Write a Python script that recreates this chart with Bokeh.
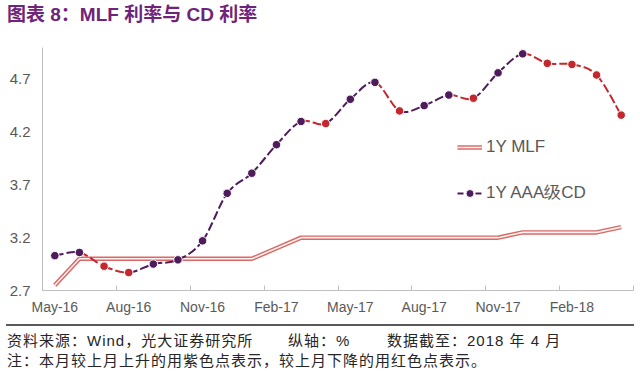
import numpy as np
from bokeh.plotting import figure
from bokeh.models import ColumnDataSource, FixedTicker, Legend, LegendItem, Div, BoxAnnotation
from bokeh.layouts import column
from bokeh.embed import file_html
from bokeh.resources import INLINE

# ---------------- data ----------------
months = ["May-16", "Jun-16", "Jul-16", "Aug-16", "Sep-16", "Oct-16", "Nov-16", "Dec-16",
          "Jan-17", "Feb-17", "Mar-17", "Apr-17", "May-17", "Jun-17", "Jul-17", "Aug-17",
          "Sep-17", "Oct-17", "Nov-17", "Dec-17", "Jan-18", "Feb-18", "Mar-18", "Apr-18"]
mlf = [2.75, 3.00, 3.00, 3.00, 3.00, 3.00, 3.00, 3.00, 3.00, 3.10, 3.20, 3.20,
       3.20, 3.20, 3.20, 3.20, 3.20, 3.20, 3.20, 3.25, 3.25, 3.25, 3.25, 3.30]
cd = [3.03, 3.06, 2.93, 2.87, 2.95, 2.99, 3.17, 3.62, 3.81, 4.08, 4.30, 4.28,
      4.51, 4.67, 4.40, 4.45, 4.55, 4.52, 4.76, 4.94, 4.85, 4.84, 4.74, 4.36]
y_ticks = [2.7, 3.2, 3.7, 4.2, 4.7]
label_step = 3

PURPLE = "#4e1b5b"
RED = "#c3282e"
GRAY = "#595959"
AXIS = "#bfbfbf"
RULE = "#5a5a5a"

n = len(months)
xs = np.arange(n, dtype=float)
ys = np.array(cd, dtype=float)
pt_colors = [PURPLE if (i == 0 or cd[i] >= cd[i - 1]) else RED for i in range(n)]

# smoothed (Catmull-Rom style) segments for the CD line, coloured by the end point
seg = dict(x0=[], y0=[], x1=[], y1=[], cx0=[], cy0=[], cx1=[], cy1=[], color=[])
for i in range(n - 1):
    a = i - 1 if i > 0 else i
    b = i + 2 if i + 2 < n else i + 1
    seg["x0"].append(xs[i]); seg["y0"].append(ys[i])
    seg["x1"].append(xs[i + 1]); seg["y1"].append(ys[i + 1])
    seg["cx0"].append(xs[i] + (xs[i + 1] - xs[a]) / 6.0)
    seg["cy0"].append(ys[i] + (ys[i + 1] - ys[a]) / 6.0)
    seg["cx1"].append(xs[i + 1] - (xs[b] - xs[i]) / 6.0)
    seg["cy1"].append(ys[i + 1] - (ys[b] - ys[i]) / 6.0)
    seg["color"].append(pt_colors[i + 1])
seg_src = ColumnDataSource(seg)
pt_src = ColumnDataSource(dict(x=xs, y=ys, c=pt_colors))
mlf_src = ColumnDataSource(dict(x=xs, y=mlf))

# ---------------- figure geometry ----------------
W, H = 636, 293
B_LEFT, B_RIGHT, B_TOP, B_BOTTOM = 42, 3, 16, 34
X0, X1 = -0.5, n - 0.5
Y0, Y1 = 2.7, 5.0
FRAME_W = W - B_LEFT - B_RIGHT
FRAME_H = H - B_TOP - B_BOTTOM
px_x = FRAME_W / (X1 - X0)
px_y = FRAME_H / (Y1 - Y0)

p = figure(width=W, height=H, x_range=(X0, X1), y_range=(Y0, Y1),
           output_backend="svg", toolbar_location=None,
           min_border_left=B_LEFT, min_border_right=B_RIGHT,
           min_border_top=B_TOP, min_border_bottom=B_BOTTOM)
p.outline_line_color = None
p.xgrid.visible = False
p.ygrid.visible = False
p.background_fill_color = "white"
p.border_fill_alpha = 0

# rule under the title: a 2px band at the very top of the figure canvas, 6px..634px wide
rule = BoxAnnotation(left=X0 - (B_LEFT - 6) / px_x, right=X1 + (B_RIGHT - 2) / px_x,
                     top=Y1 + B_TOP / px_y, bottom=Y1 + (B_TOP - 2) / px_y,
                     fill_color=RULE, fill_alpha=1.0, line_color=None, line_alpha=0)
p.add_layout(rule)

mlf_outer = p.line("x", "y", source=mlf_src, line_color="#da6864", line_width=4.5)
mlf_inner = p.line("x", "y", source=mlf_src, line_color="#fdf0f0", line_width=1.6)

p.bezier(x0="x0", y0="y0", x1="x1", y1="y1", cx0="cx0", cy0="cy0", cx1="cx1", cy1="cy1",
         source=seg_src, line_color="color", line_width=2, line_dash="9 3")
cd_pts = p.scatter("x", "y", source=pt_src, size=8.5, fill_color="c", line_color="white", line_width=1)

# legend-only renderer for the dashed CD line (no visible data)
leg_src = ColumnDataSource(dict(x=[np.nan], y=[np.nan]))
leg_line = p.line("x", "y", source=leg_src, line_color=PURPLE, line_width=2, line_dash="6 3")

legend = Legend(items=[LegendItem(label="1Y MLF", renderers=[mlf_outer, mlf_inner]),
                       LegendItem(label="1Y AAA级CD", renderers=[leg_line, cd_pts], index=0)],
                location=(415, 86), orientation="vertical")
legend.border_line_color = None
legend.background_fill_alpha = 0
legend.padding = 0
legend.margin = 0
legend.spacing = 24
legend.glyph_width = 25
legend.glyph_height = 20
legend.label_height = 20
legend.label_standoff = 4
legend.label_text_font = "Liberation Sans"
legend.label_text_font_size = "17px"
legend.label_text_color = GRAY
p.add_layout(legend, "center")

# x axis
major = list(range(0, n, label_step))
minor = [k - 0.5 for k in range(0, n + 1, label_step)]
p.xaxis.ticker = FixedTicker(ticks=major, minor_ticks=minor)
p.xaxis.major_label_overrides = {k: months[k] for k in major}
p.xaxis.axis_line_color = AXIS
p.xaxis.major_tick_in = 0
p.xaxis.major_tick_out = 0
p.xaxis.minor_tick_in = 5
p.xaxis.minor_tick_out = 0
p.xaxis.minor_tick_line_color = AXIS
p.xaxis.major_label_standoff = 8
p.xaxis.major_label_text_font = "Liberation Sans"
p.xaxis.major_label_text_font_size = "14px"
p.xaxis.major_label_text_color = GRAY

# y axis
p.yaxis.ticker = FixedTicker(ticks=y_ticks)
p.yaxis.axis_line_color = AXIS
p.yaxis.major_tick_in = 0
p.yaxis.major_tick_out = 0
p.yaxis.minor_tick_in = 0
p.yaxis.minor_tick_out = 0
p.yaxis.major_label_standoff = 12
p.yaxis.major_label_text_font = "Liberation Sans"
p.yaxis.major_label_text_font_size = "15px"
p.yaxis.major_label_text_color = GRAY

# ---------------- title / footer ----------------
title_div = Div(
    text=("<div style=\"width:628px;margin-left:6px;box-sizing:border-box;padding:5px 0 0 1px;"
          "font-family:'Liberation Sans','Noto Sans CJK SC';font-weight:bold;"
          "font-size:19px;line-height:20px;color:#70237a;white-space:nowrap;\">"
          "图表 8：MLF 利率与 CD 利率</div>"),
    width=636, height=31, margin=0)

foot_style = ("font-family:'Liberation Sans','Noto Sans CJK SC';font-size:15px;letter-spacing:1px;"
              "line-height:19.5px;color:#262626;white-space:nowrap;")
footer_div = Div(
    text=("<div style=\"box-sizing:border-box;width:628px;height:45px;margin-left:6px;"
          f"border-top:2px solid {RULE};padding:5px 0 0 1px;overflow:hidden;\">"
          f"<div style=\"{foot_style}\">"
          "<span style=\"display:inline-block;width:281px\">资料来源：Wind，光大证券研究所</span>"
          "<span style=\"display:inline-block;width:99px\">纵轴：%</span>"
          "<span>数据截至：2018 年 4 月</span></div>"
          f"<div style=\"{foot_style}\">注：本月较上月上升的用紫色点表示，较上月下降的用红色点表示。</div>"
          "</div>"),
    width=636, height=45, margin=0)

layout = column(title_div, p, footer_div, spacing=0)

open("out.html", "w").write(file_html(layout, INLINE))
